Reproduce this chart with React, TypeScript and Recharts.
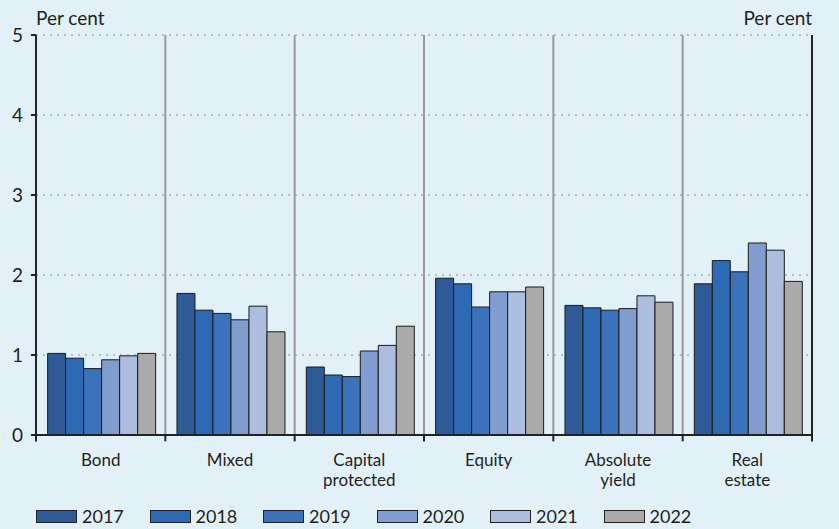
import React from 'react';
import { ComposedChart, Bar, XAxis, YAxis, CartesianGrid, ReferenceLine, Legend } from 'recharts';

const categories = ['Bond', 'Mixed', 'Capital\nprotected', 'Equity', 'Absolute\nyield', 'Real\nestate'];
const years = ['2017', '2018', '2019', '2020', '2021', '2022'];
const v2017 = [1.02, 1.77, 0.85, 1.96, 1.62, 1.89];
const v2018 = [0.96, 1.56, 0.75, 1.89, 1.59, 2.18];
const v2019 = [0.83, 1.52, 0.73, 1.60, 1.56, 2.04];
const v2020 = [0.94, 1.44, 1.05, 1.79, 1.58, 2.40];
const v2021 = [0.99, 1.61, 1.12, 1.79, 1.74, 2.31];
const v2022 = [1.02, 1.29, 1.36, 1.85, 1.66, 1.92];
const yTicks = [0, 1, 2, 3, 4, 5];
const dividers = [1, 2, 3, 4, 5];
const boundaryTicks = [0, 1, 2, 3, 4, 5, 6];
const colors = ['#2e5b98', '#2d6ab4', '#3b72bb', '#819dd0', '#adbde0', '#aaaaaa'];

const seriesValues = [v2017, v2018, v2019, v2020, v2021, v2022];
const data = categories.map((c, i) => {
  const row: any = { cat: c, pos: i + 0.5 };
  years.forEach((y, k) => { row[y] = seriesValues[k][i]; });
  return row;
});

const FONT = 'Lato, "Open Sans", sans-serif';
const TXT = '#231f20';

const CatTick = (props: any) => {
  const { x, y, payload } = props;
  const lines = String(payload.value).split('\n');
  return (
    <g>
      {lines.map((l, i) => (
        <text key={i} x={x} y={y + 23 + i * 20} textAnchor="middle" fill={TXT} fontSize={17} fontFamily={FONT}>{l}</text>
      ))}
    </g>
  );
};

const LegendContent = () => (
  <div style={{ display: 'flex', paddingLeft: 36, paddingTop: 10, fontFamily: FONT, fontSize: 18, color: TXT }}>
    {years.map((y, i) => (
      <div key={y} style={{ display: 'flex', alignItems: 'center', width: 113.5 }}>
        <div style={{ width: 39, height: 11, background: colors[i], border: '1px solid #222', marginRight: 5 }} />
        <span>{y}</span>
      </div>
    ))}
  </div>
);

export default function App() {
  return (
    <div style={{ position: 'absolute', left: 0, top: 0, width: 839, height: 529, background: '#e2f1f8', fontFamily: FONT }}>
      <div style={{ position: 'absolute', left: 36, top: 6, fontSize: 19, color: TXT }}>Per cent</div>
      <div style={{ position: 'absolute', right: 27, top: 6, fontSize: 19, color: TXT }}>Per cent</div>
      <ComposedChart
        width={839}
        height={529}
        data={data}
        margin={{ top: 35, right: 0, left: 0, bottom: 0 }}
        barCategoryGap="9%"
        barGap={0}
      >
        <CartesianGrid vertical={false} stroke="#8a8a8a" strokeDasharray="2 5" yAxisId="left" xAxisId="cat" />
        <XAxis
          xAxisId="cat"
          dataKey="cat"
          height={60}
          axisLine={{ stroke: '#222', strokeWidth: 2 }}
          tickLine={false}
          tick={<CatTick />}
          interval={0}
          tickMargin={2}
        />
        <XAxis xAxisId="num" dataKey="pos" type="number" domain={[0, 6]} ticks={boundaryTicks} allowDataOverflow hide />
        <YAxis
          yAxisId="left"
          domain={[0, 5]}
          ticks={yTicks}
          width={36}
          axisLine={{ stroke: '#222', strokeWidth: 2 }}
          tickLine={{ stroke: '#222', strokeWidth: 2 }}
          tickSize={5}
          tick={{ fill: TXT, fontSize: 19, fontFamily: FONT }}
          tickMargin={8}
        />
        <YAxis
          yAxisId="right"
          orientation="right"
          domain={[0, 5]}
          ticks={yTicks}
          width={27}
          axisLine={{ stroke: '#222', strokeWidth: 2 }}
          tickLine={{ stroke: '#222', strokeWidth: 2 }}
          tickSize={5}
          tick={{ fill: TXT, fontSize: 19, fontFamily: FONT }}
          tickMargin={3}
        />
        {dividers.map((d) => (
          <ReferenceLine key={'d' + d} xAxisId="num" yAxisId="left" segment={[{ x: d, y: 0 }, { x: d, y: 5 }]} stroke="#9a9a9a" strokeWidth={2} ifOverflow="visible" />
        ))}
        {boundaryTicks.map((d) => (
          <ReferenceLine key={'t' + d} xAxisId="num" yAxisId="left" segment={[{ x: d, y: 0 }, { x: d, y: -0.08 }]} stroke="#222" strokeWidth={2} ifOverflow="visible" />
        ))}
        {years.map((y, i) => (
          <Bar key={y} dataKey={y} xAxisId="cat" yAxisId="left" fill={colors[i]} stroke="#1a1a1a" strokeWidth={1} isAnimationActive={false} />
        ))}
        <Legend verticalAlign="bottom" height={34} content={<LegendContent />} wrapperStyle={{ left: 0, width: 839 }} />
      </ComposedChart>
    </div>
  );
}
